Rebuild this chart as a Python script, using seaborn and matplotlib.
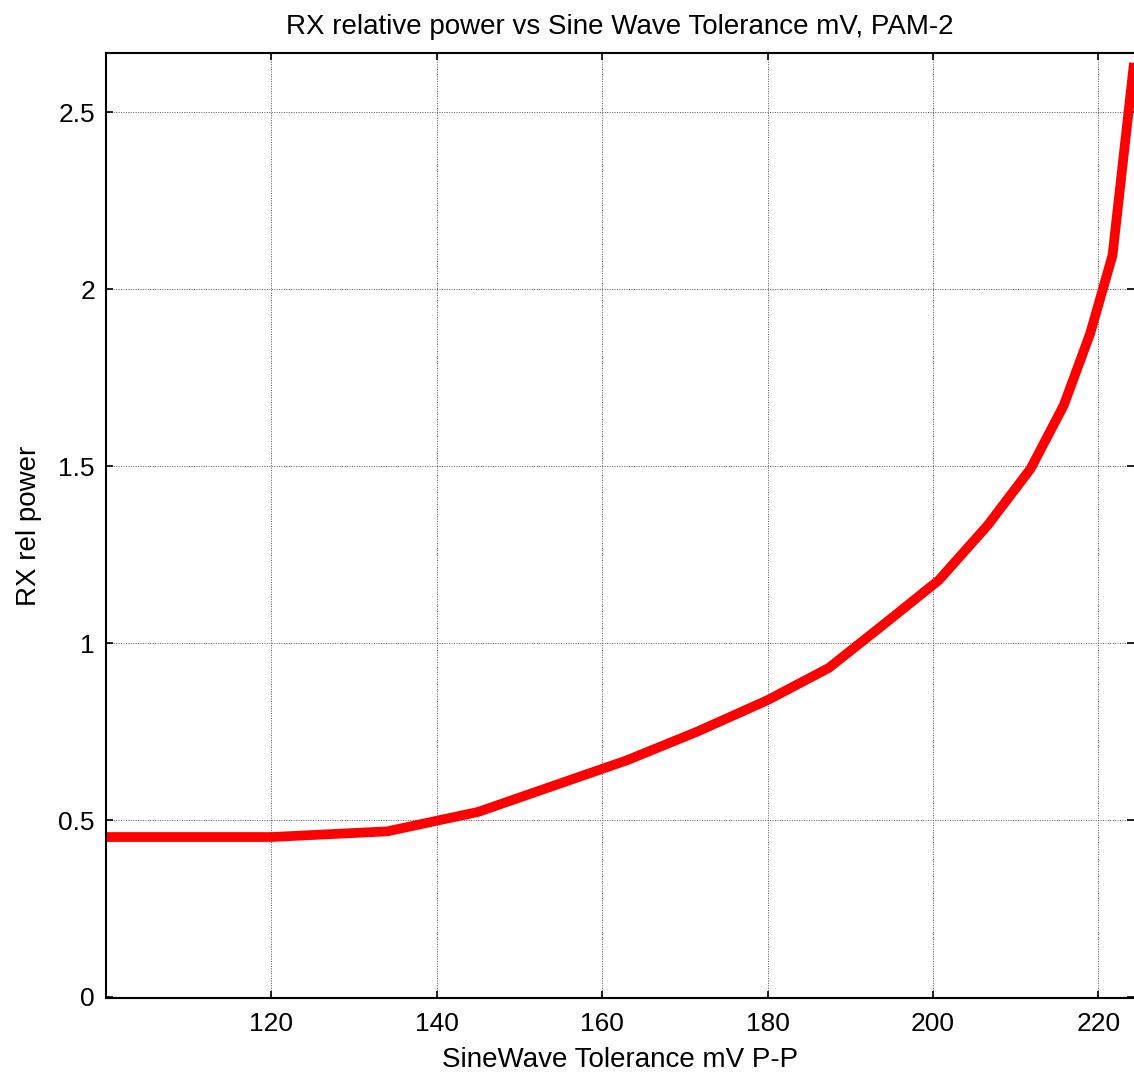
import matplotlib
matplotlib.use("Agg")
import matplotlib.pyplot as plt
import seaborn as sns
import pandas as pd

# Sine-wave tolerance sweep (mV P-P) and resulting relative RX power
tolerance_mv = [100, 120, 134, 145, 163, 171.5, 180, 187.4, 194.2, 200.7,
                206.6, 211.8, 215.8, 219.0, 221.7, 224.3]
rel_power = [0.452, 0.452, 0.468, 0.523, 0.669, 0.750, 0.839, 0.930, 1.056, 1.178,
             1.333, 1.493, 1.672, 1.875, 2.096, 2.640]

x_ticks = [120, 140, 160, 180, 200, 220]
y_ticks = [0, 0.5, 1, 1.5, 2, 2.5]
y_tick_labels = ["0", "0.5", "1", "1.5", "2", "2.5"]

df = pd.DataFrame({"tol": tolerance_mv, "power": rel_power})

sns.set_theme(style="white")
plt.rcParams["font.family"] = ["Liberation Sans", "DejaVu Sans"]

fig = plt.figure(figsize=(11.34, 10.75), dpi=100)
ax = fig.add_axes([106 / 1134, 1 - 998 / 1075, 1 - 106 / 1134, (998 - 53) / 1075])

sns.lineplot(data=df, x="tol", y="power", ax=ax, color="#ff0000",
             linewidth=7, solid_joinstyle="miter", solid_capstyle="butt")

ax.set_xlim(100, 224.3)
ax.set_ylim(-0.003, 2.668)
ax.set_xticks(x_ticks)
ax.set_yticks(y_ticks)
ax.set_yticklabels(y_tick_labels)

ax.grid(True, color="#555555", linestyle=(0, (1, 1.5)), linewidth=0.7)
ax.set_axisbelow(True)

for side in ["left", "bottom", "top"]:
    ax.spines[side].set_visible(True)
    ax.spines[side].set_color("black")
    ax.spines[side].set_linewidth(1.5)
ax.spines["right"].set_visible(False)

ax.tick_params(axis="both", which="both", direction="in", length=5, width=1.2,
               colors="black", labelsize=19, top=True, right=True,
               bottom=True, left=True, pad=10)
ax.tick_params(axis="y", pad=8)

ax.set_xlabel("SineWave Tolerance mV P-P", fontsize=20, color="black", labelpad=8)
ax.set_ylabel("RX rel power", fontsize=20, color="black", labelpad=12)
ax.set_title("RX relative power vs Sine Wave Tolerance mV, PAM-2",
             fontsize=20, color="black", pad=14)

fig.savefig("out.png", dpi=100, facecolor="white")
